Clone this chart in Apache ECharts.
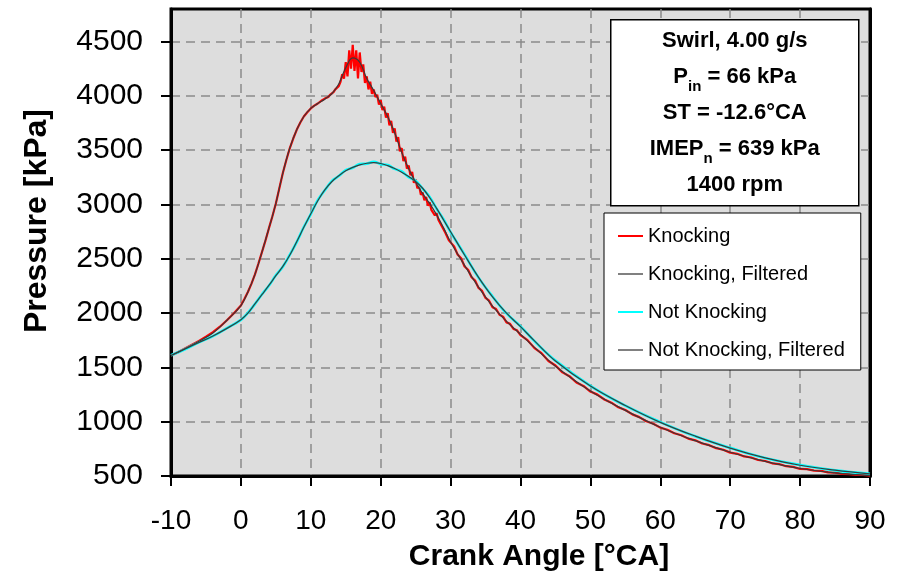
<!DOCTYPE html>
<html>
<head>
<meta charset="utf-8">
<script src="https://cdn.jsdelivr.net/npm/echarts@6/dist/echarts.min.js"></script>
<style>
html,body{margin:0;padding:0;background:#fff;}
#chart{width:898px;height:579px;}
</style>
</head>
<body>
<div id="chart"></div>
<script>
// ---- data ----
const xTicks = [-10, 0, 10, 20, 30, 40, 50, 60, 70, 80, 90];
const yTicks = [500, 1000, 1500, 2000, 2500, 3000, 3500, 4000, 4500];

const seriesNames = ['Knocking', 'Knocking, Filtered', 'Not Knocking', 'Not Knocking, Filtered'];

// smooth (filtered) curves
const filtAngle = [-10,-8,-6,-4,-2,0,1,2,3,4,5,6,7,8,9,10,11,12,13,14,15,16,17,18,19,20,21,22,23,24,25,26,27,28,29,30,32,34,36,38,40,42,45,50,55,60,65,70,75,80,85,90];
const knockFiltered = [1610,1672,1742,1818,1935,
  2070,2195,2355,2560,2780,3010,3290,3520,3690,3810,3885,
  3930,3970,4020,4110,4260,4350,4310,4160,4050,3930,
  3810,3660,3480,3330,3205,3100,3010,2905,2785,2655,
  2440,2240,2065,1925,1806,1685,1512,
  1284,1105,950,826,720,636,570,530,505];
const notKnockFiltered = [1610,1670,1730,1790,1860,
  1940,2000,2085,2170,2255,2345,2430,2535,2660,2790,2915,
  3035,3135,3210,3265,3310,3342,3365,3380,3386,3378,
  3358,3332,3298,3258,3212,3150,3065,2965,2858,2750,
  2535,2330,2150,2000,1876,1745,1560,
  1329,1150,995,868,758,668,600,555,520];
const notKnockRaw = [1612,1668,1732,1788,1862,
  1938,2003,2083,2172,2252,2348,2428,2538,2657,2793,2912,
  3040,3131,3216,3262,3316,3338,3372,3376,3394,3372,
  3364,3328,3305,3252,3219,3146,3070,2961,2862,2746,
  2539,2327,2153,1997,1879,1742,1563,
  1331,1148,997,866,760,666,602,553,521];

// raw knocking pressure (with knock oscillations)
const knockRawAngle = [
  -10,-9,-8,-7,-6,-5,-4,-3,-2,-1,
  0,0.5,1,1.5,2,2.5,3,3.5,4,4.5,5,5.5,6,6.5,7,7.5,8,8.5,9,9.5,10,10.5,11,11.5,12,
  12.25,12.5,12.75,13,13.25,13.5,13.75,14,14.25,14.5,14.75,15,15.25,15.5,15.75,16,
  16.25,16.5,16.75,17,17.25,17.5,17.75,18,18.25,18.5,18.75,19,19.25,19.5,19.75,20,
  20.25,20.5,20.75,21,21.25,21.5,21.75,22,22.25,22.5,22.75,23,23.25,23.5,23.75,24,
  24.25,24.5,24.75,25,25.25,25.5,25.75,26,26.25,26.5,26.75,27,27.25,27.5,27.75,28,
  28.25,28.5,28.75,29,29.25,29.5,29.75,30,
  30.5,31,31.5,32,32.5,33,33.5,34,34.5,35,35.5,36,36.5,37,37.5,38,38.5,39,39.5,40,
  41,42,43,44,45,46,47,48,49,50,
  51,52,53,54,55,56,57,58,59,60,61,62,63,64,65,66,67,68,69,70,
  71,72,73,74,75,76,77,78,79,80,81,82,83,84,85,86,87,88,89,90];
const knockRaw = [
  1610,1640,1675,1710,1745,1783,1825,1875,1935,2000,
  2070,2130,2195,2270,2355,2455,2560,2665,2780,2890,3010,3150,3290,3410,3520,3610,3690,3755,3810,3850,3885,3910,3930,3955,3975,
  3985,3990,4010,4020,4035,4060,4075,4090,4130,4200,4160,4310,4180,4420,4250,4470,
  4230,4420,4160,4400,4220,4290,4120,4180,4060,4130,4020,4060,3990,4010,3920,3960,
  3870,3900,3800,3840,3730,3770,3660,3700,3580,3620,3490,3520,3400,3440,3330,3360,
  3270,3300,3200,3230,3150,3170,3090,3110,3040,3070,2990,3020,2950,2960,2900,2920,
  2860,2870,2800,2800,2740,2740,2670,2670,
  2615,2540,2505,2430,2400,2330,2300,2232,2205,2140,2115,2055,2038,1985,1968,1915,1902,1855,1842,1798,
  1752,1678,1632,1560,1518,1455,1420,1362,1330,1278,
  1250,1205,1176,1133,1108,1068,1043,1005,982,946,927,894,876,845,829,800,785,757,743,716,
  705,681,671,648,639,618,611,591,585,566,564,550,548,534,532,520,519,510,510,503];

const annotationLines = [
  '{b|Swirl, 4.00 g/s}',
  '{b|P}{s|in}{b| = 66 kPa}',
  '{b|ST = -12.6°CA}',
  '{b|IMEP}{s|n}{b| = 639 kPa}',
  '{b|1400 rpm}'
];

const pair = (xs, ys) => xs.map((x, i) => [x, ys[i]]);
const FONT = "'Liberation Sans', Arial, Helvetica, sans-serif";
const plain = v => String(v);

const chart = echarts.init(document.getElementById('chart'), null, {renderer: 'canvas'});
chart.setOption({
  animation: false,
  backgroundColor: '#ffffff',
  grid: {
    left: 171, right: 28, top: 9, bottom: 98,
    show: true, backgroundColor: '#dddddd', borderColor: '#000', borderWidth: 3
  },
  xAxis: {
    type: 'value', min: -10, max: 90, interval: 10,
    name: 'Crank Angle [°CA]', nameLocation: 'middle', nameGap: 62,
    nameTextStyle: {fontFamily: FONT, fontSize: 30, fontWeight: 'bold', color: '#000', lineHeight: 34, padding: [0, 0, 0, 37]},
    axisLine: {show: true, onZero: false, lineStyle: {color: '#000', width: 3}},
    axisTick: {show: true, length: 10, inside: false, lineStyle: {color: '#000', width: 2}, customValues: xTicks},
    axisLabel: {fontFamily: FONT, fontSize: 28, color: '#000', margin: 31, lineHeight: 28, customValues: xTicks, formatter: plain},
    splitLine: {show: true, lineStyle: {color: '#8a8a8a', width: 1.5, type: [9, 6]}}
  },
  yAxis: [{
    type: 'value', min: 500, max: 4800, interval: 500,
    name: 'Pressure [kPa]', nameLocation: 'middle', nameGap: 116,
    nameTextStyle: {fontFamily: FONT, fontSize: 32, fontWeight: 'bold', color: '#000', lineHeight: 36, padding: [0, 0, 0, 43]},
    axisLine: {show: true, onZero: false, lineStyle: {color: '#000', width: 3}},
    axisTick: {show: true, length: 10, lineStyle: {color: '#000', width: 2}, customValues: yTicks},
    axisLabel: {fontFamily: FONT, fontSize: 30, color: '#000', margin: 28, customValues: yTicks, formatter: plain},
    splitLine: {show: true, lineStyle: {color: '#8a8a8a', width: 1.5, type: [9, 6]}}
  }, {
    type: 'value', min: 500, max: 4800, interval: 500, position: 'right',
    axisLine: {show: true, onZero: false, lineStyle: {color: '#000', width: 3}},
    axisTick: {show: false}, axisLabel: {show: false}, splitLine: {show: false}
  }],
  legend: {
    show: true, orient: 'vertical', left: 604, top: 213, z: 50,
    backgroundColor: '#fff', borderColor: '#000', borderWidth: 1,
    padding: [12, 16, 9, 14], itemGap: 16, itemWidth: 25, itemHeight: 2, icon: 'rect',
    selectedMode: false,
    textStyle: {fontFamily: FONT, fontSize: 20, lineHeight: 22, color: '#000'},
    data: [
      {name: seriesNames[0], itemStyle: {color: '#ff0000'}},
      {name: seriesNames[1], itemStyle: {color: '#808080'}},
      {name: seriesNames[2], itemStyle: {color: '#00ffff'}},
      {name: seriesNames[3], itemStyle: {color: '#808080'}}
    ]
  },
  series: [
    {name: seriesNames[0], type: 'line', data: pair(knockRawAngle, knockRaw), showSymbol: false, symbol: 'none',
     color: '#ff0000', lineStyle: {color: '#ff0000', width: 2.2}, z: 2},
    {name: seriesNames[2], type: 'line', data: pair(filtAngle, notKnockRaw), showSymbol: false, symbol: 'none', smooth: 0.4,
     color: '#00ffff', lineStyle: {color: '#00ffff', width: 2.6}, z: 3},
    {name: seriesNames[1], type: 'line', data: pair(filtAngle, knockFiltered), showSymbol: false, symbol: 'none', smooth: 0.4,
     color: '#404040', lineStyle: {color: '#3a3a3a', width: 1.2}, z: 4},
    {name: seriesNames[3], type: 'line', data: pair(filtAngle, notKnockFiltered), showSymbol: false, symbol: 'none', smooth: 0.4,
     color: '#404040', lineStyle: {color: '#3a3a3a', width: 1.2}, z: 5}
  ],
  graphic: [{
    type: 'group', left: 610, top: 19, z: 100, zlevel: 0,
    children: [
      {type: 'rect', z: 100, shape: {x: 0, y: 0, width: 248, height: 186},
       style: {fill: '#fff', stroke: '#000', lineWidth: 1.5}},
      {type: 'text', z: 101, x: 124, y: 93,
       style: {
         text: annotationLines.join('\n'), align: 'center', verticalAlign: 'middle',
         rich: {
           b: {fontFamily: FONT, fontSize: 22, fontWeight: 'bold', lineHeight: 36, fill: '#000', color: '#000'},
           s: {fontFamily: FONT, fontSize: 15, fontWeight: 'bold', lineHeight: 18, verticalAlign: 'bottom', fill: '#000', color: '#000'}
         }
       }}
    ]
  }]
});
</script>
</body>
</html>
